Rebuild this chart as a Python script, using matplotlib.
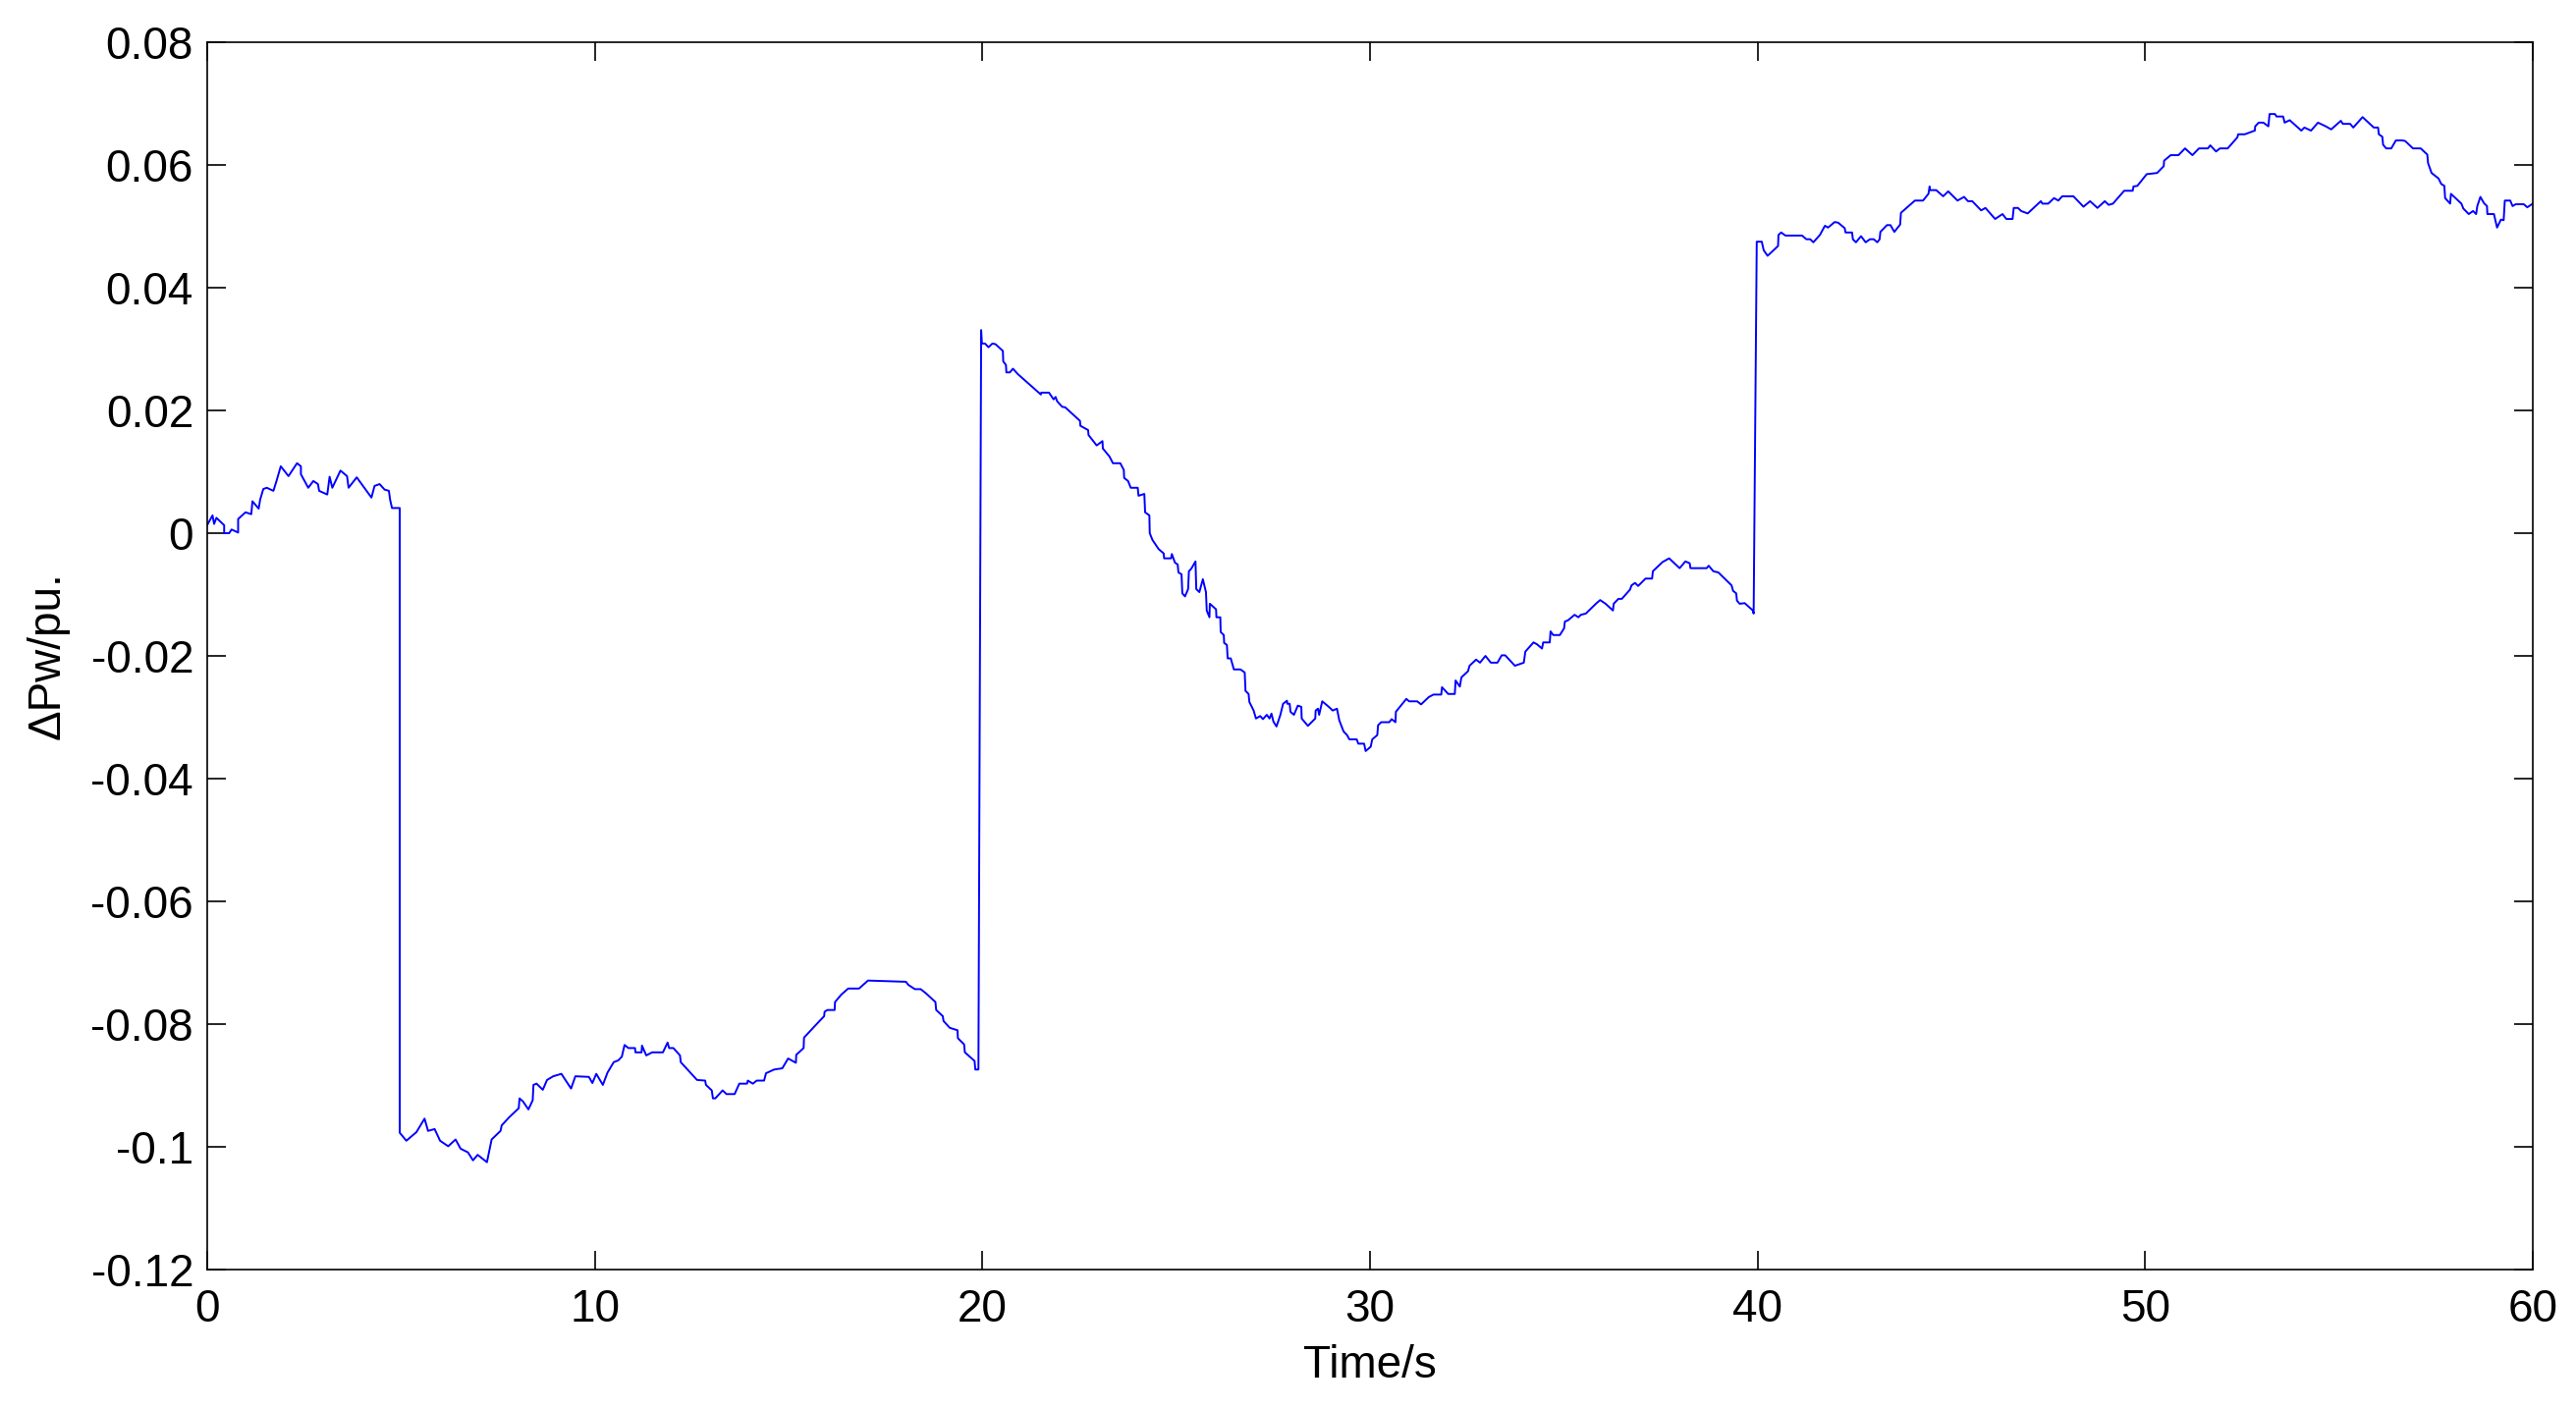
import numpy as np
import matplotlib
matplotlib.use('Agg')
import matplotlib.pyplot as plt

plt.rcParams['font.family'] = ['Liberation Sans', 'DejaVu Sans']

# values, one list pair per stage of the step test
t_0_5 = [0, 0.14, 0.18, 0.24, 0.44, 0.44, 0.57, 0.63, 0.80, 0.80, 0.99, 1.14, 1.17, 1.33,
         1.37, 1.45, 1.54, 1.71, 1.79, 1.90, 2.10, 2.32, 2.42, 2.42, 2.61, 2.74, 2.86, 2.89,
         3.10, 3.16, 3.23, 3.44, 3.61, 3.65, 3.86, 4.24, 4.32, 4.45, 4.58, 4.69, 4.72, 4.77, 4.97]
dp_0_5 = [0.0013, 0.0029, 0.0015, 0.0025, 0.0013, 0.0000, 0.0000, 0.0006, 0.0001, 0.0023,
          0.0034, 0.0031, 0.0052, 0.0040, 0.0055, 0.0072, 0.0074, 0.0069, 0.0085, 0.0109,
          0.0093, 0.0114, 0.0109, 0.0096, 0.0074, 0.0085, 0.0080, 0.0069, 0.0063, 0.0092,
          0.0074, 0.0102, 0.0093, 0.0074, 0.0091, 0.0058, 0.0077, 0.0080, 0.0071, 0.0069,
          0.0055, 0.0041, 0.0041]

t_5_20 = [4.97, 5.14, 5.40, 5.61, 5.70, 5.87, 6.01, 6.22, 6.41, 6.54, 6.73, 6.86, 6.98, 7.22,
          7.34, 7.57, 7.60, 7.79, 8.04, 8.06, 8.15, 8.29, 8.40, 8.42, 8.50, 8.66, 8.77, 8.93,
          9.14, 9.39, 9.50, 9.85, 9.94, 10.04, 10.21, 10.33, 10.49, 10.61, 10.70, 10.77, 10.87,
          11.04, 11.05, 11.21, 11.22, 11.33, 11.48, 11.76, 11.88, 11.92, 12.03, 12.20, 12.22,
          12.64, 12.85, 12.87, 13.02, 13.05, 13.11, 13.30, 13.40, 13.61, 13.73, 13.93, 13.95,
          14.08, 14.18, 14.37, 14.42, 14.63, 14.84, 14.99, 15.19, 15.20, 15.39, 15.40, 15.68,
          15.92, 15.93, 16.00, 16.19, 16.20, 16.36, 16.54, 16.82, 17.05, 18.03, 18.09, 18.26,
          18.41, 18.55, 18.79, 18.81, 18.98, 19.00, 19.16, 19.36, 19.37, 19.53, 19.55, 19.80,
          19.82, 19.90]
dp_5_20 = [-0.0977, -0.0990, -0.0976, -0.0954, -0.0974, -0.0971, -0.0990, -0.0999, -0.0988,
           -0.1003, -0.1009, -0.1022, -0.1013, -0.1025, -0.0988, -0.0974, -0.0965, -0.0952,
           -0.0937, -0.0921, -0.0926, -0.0939, -0.0924, -0.0899, -0.0897, -0.0907, -0.0891,
           -0.0885, -0.0881, -0.0905, -0.0885, -0.0886, -0.0896, -0.0881, -0.0899, -0.0879,
           -0.0862, -0.0859, -0.0853, -0.0834, -0.0839, -0.0839, -0.0846, -0.0846, -0.0835,
           -0.0851, -0.0846, -0.0846, -0.0830, -0.0839, -0.0839, -0.0851, -0.0862, -0.0891,
           -0.0892, -0.0899, -0.0908, -0.0921, -0.0921, -0.0908, -0.0914, -0.0914, -0.0897,
           -0.0897, -0.0892, -0.0897, -0.0892, -0.0892, -0.0880, -0.0874, -0.0872, -0.0856,
           -0.0863, -0.0850, -0.0839, -0.0822, -0.0803, -0.0787, -0.0780, -0.0777, -0.0777,
           -0.0764, -0.0752, -0.0742, -0.0742, -0.0729, -0.0731, -0.0736, -0.0743, -0.0743,
           -0.0750, -0.0764, -0.0777, -0.0787, -0.0795, -0.0806, -0.0810, -0.0823, -0.0833,
           -0.0846, -0.0860, -0.0874, -0.0874]

t_20_40 = [19.97, 19.99, 20.07, 20.16, 20.26, 20.34, 20.53, 20.54, 20.61, 20.62, 20.71, 20.79,
           20.92, 21.51, 21.52, 21.72, 21.84, 21.89, 21.93, 22.06, 22.14, 22.52, 22.53, 22.73,
           22.74, 22.95, 23.10, 23.11, 23.28, 23.37, 23.56, 23.65, 23.66, 23.76, 23.83, 24.01,
           24.03, 24.18, 24.20, 24.31, 24.32, 24.39, 24.55, 24.68, 24.69, 24.87, 24.89, 24.97,
           25.04, 25.06, 25.14, 25.16, 25.23, 25.31, 25.33, 25.39, 25.50, 25.52, 25.60, 25.69,
           25.77, 25.79, 25.86, 25.87, 26.03, 26.04, 26.14, 26.15, 26.23, 26.24, 26.31, 26.33,
           26.41, 26.49, 26.66, 26.77, 26.79, 26.87, 26.89, 27.00, 27.06, 27.17, 27.24, 27.34,
           27.41, 27.46, 27.51, 27.59, 27.69, 27.76, 27.86, 27.87, 27.93, 27.95, 28.04, 28.14,
           28.23, 28.24, 28.40, 28.59, 28.60, 28.66, 28.69, 28.77, 28.94, 29.04, 29.15, 29.21,
           29.32, 29.41, 29.47, 29.66, 29.70, 29.85, 29.89, 30.02, 30.06, 30.19, 30.21, 30.29,
           30.50, 30.56, 30.66, 30.67, 30.94, 31.01, 31.22, 31.32, 31.52, 31.64, 31.84, 31.86,
           32.02, 32.19, 32.21, 32.32, 32.36, 32.53, 32.57, 32.74, 32.84, 32.98, 33.12, 33.29,
           33.40, 33.49, 33.74, 33.97, 34.01, 34.22, 34.31, 34.44, 34.47, 34.64, 34.66, 34.73,
           34.90, 35.01, 35.03, 35.11, 35.28, 35.38, 35.44, 35.57, 35.83, 35.94, 36.08, 36.27,
           36.29, 36.41, 36.50, 36.71, 36.75, 36.84, 36.92, 37.11, 37.28, 37.30, 37.55, 37.72,
           37.99, 38.14, 38.25, 38.27, 38.69, 38.74, 38.86, 38.99, 39.33, 39.37, 39.45, 39.47,
           39.54, 39.67, 39.88, 39.90]
dp_20_40 = [0.0331, 0.0309, 0.0309, 0.0303, 0.0309, 0.0308, 0.0297, 0.0280, 0.0274, 0.0262,
            0.0262, 0.0268, 0.0259, 0.0226, 0.0229, 0.0229, 0.0218, 0.0222, 0.0215, 0.0206,
            0.0205, 0.0183, 0.0175, 0.0168, 0.0160, 0.0143, 0.0150, 0.0138, 0.0125, 0.0114,
            0.0114, 0.0103, 0.0090, 0.0085, 0.0074, 0.0074, 0.0061, 0.0064, 0.0034, 0.0029,
            0.0000, -0.0011, -0.0026, -0.0033, -0.0041, -0.0041, -0.0034, -0.0048, -0.0051,
            -0.0064, -0.0067, -0.0098, -0.0103, -0.0091, -0.0062, -0.0058, -0.0046, -0.0091,
            -0.0096, -0.0075, -0.0096, -0.0126, -0.0137, -0.0115, -0.0124, -0.0137, -0.0137,
            -0.0161, -0.0166, -0.0179, -0.0182, -0.0204, -0.0204, -0.0222, -0.0222, -0.0227,
            -0.0257, -0.0262, -0.0275, -0.0289, -0.0302, -0.0298, -0.0303, -0.0296, -0.0302,
            -0.0294, -0.0307, -0.0315, -0.0296, -0.0278, -0.0273, -0.0278, -0.0278, -0.0291,
            -0.0296, -0.0281, -0.0283, -0.0302, -0.0314, -0.0302, -0.0289, -0.0286, -0.0296,
            -0.0274, -0.0283, -0.0289, -0.0286, -0.0305, -0.0323, -0.0329, -0.0336, -0.0336,
            -0.0343, -0.0343, -0.0355, -0.0348, -0.0336, -0.0329, -0.0313, -0.0308, -0.0308,
            -0.0303, -0.0308, -0.0291, -0.0270, -0.0274, -0.0274, -0.0279, -0.0267, -0.0263,
            -0.0263, -0.0251, -0.0262, -0.0262, -0.0240, -0.0250, -0.0235, -0.0225, -0.0216,
            -0.0206, -0.0211, -0.0200, -0.0211, -0.0211, -0.0199, -0.0199, -0.0216, -0.0211,
            -0.0193, -0.0178, -0.0181, -0.0188, -0.0178, -0.0178, -0.0160, -0.0166, -0.0166,
            -0.0155, -0.0144, -0.0142, -0.0133, -0.0137, -0.0133, -0.0131, -0.0115, -0.0109,
            -0.0115, -0.0126, -0.0115, -0.0107, -0.0107, -0.0092, -0.0085, -0.0081, -0.0086,
            -0.0074, -0.0074, -0.0062, -0.0047, -0.0041, -0.0057, -0.0046, -0.0049, -0.0057,
            -0.0057, -0.0053, -0.0062, -0.0064, -0.0085, -0.0094, -0.0098, -0.0110, -0.0115,
            -0.0114, -0.0126, -0.0131]

t_40_60 = [39.98, 40.11, 40.16, 40.26, 40.53, 40.54, 40.61, 40.72, 41.15, 41.26, 41.36, 41.44,
           41.61, 41.74, 41.82, 41.99, 42.08, 42.25, 42.27, 42.44, 42.46, 42.54, 42.67, 42.79,
           42.90, 43.00, 43.09, 43.15, 43.17, 43.34, 43.43, 43.53, 43.68, 43.70, 44.06, 44.27,
           44.41, 44.44, 44.45, 44.61, 44.79, 44.92, 45.16, 45.33, 45.43, 45.54, 45.77, 45.88,
           46.13, 46.32, 46.42, 46.58, 46.61, 46.72, 46.80, 46.97, 47.31, 47.35, 47.50, 47.65,
           47.76, 47.86, 48.15, 48.41, 48.58, 48.77, 48.96, 49.06, 49.17, 49.46, 49.68, 49.70,
           49.80, 50.04, 50.31, 50.48, 50.49, 50.66, 50.86, 51.03, 51.22, 51.39, 51.62, 51.68,
           51.83, 51.93, 52.13, 52.38, 52.40, 52.57, 52.83, 52.84, 52.93, 53.05, 53.18, 53.21,
           53.35, 53.39, 53.56, 53.60, 53.73, 54.03, 54.11, 54.28, 54.46, 54.66, 54.80, 55.05,
           55.10, 55.29, 55.37, 55.61, 55.90, 56.01, 56.03, 56.12, 56.14, 56.22, 56.35, 56.47,
           56.64, 56.71, 56.91, 57.11, 57.28, 57.30, 57.39, 57.57, 57.64, 57.72, 57.74, 57.87,
           57.89, 58.16, 58.21, 58.35, 58.46, 58.54, 58.57, 58.65, 58.74, 58.82, 58.83, 59.00,
           59.08, 59.18, 59.25, 59.28, 59.42, 59.48, 59.56, 59.77, 59.86, 60.00]
dp_40_60 = [0.0475, 0.0475, 0.0461, 0.0452, 0.0468, 0.0486, 0.0490, 0.0485, 0.0485, 0.0479,
            0.0479, 0.0474, 0.0486, 0.0501, 0.0498, 0.0507, 0.0506, 0.0497, 0.0490, 0.0490,
            0.0479, 0.0474, 0.0484, 0.0474, 0.0479, 0.0479, 0.0474, 0.0479, 0.0491, 0.0502,
            0.0502, 0.0491, 0.0503, 0.0522, 0.0542, 0.0542, 0.0553, 0.0565, 0.0559, 0.0559,
            0.0549, 0.0557, 0.0542, 0.0548, 0.0541, 0.0541, 0.0526, 0.0530, 0.0512, 0.0520,
            0.0512, 0.0512, 0.0530, 0.0530, 0.0525, 0.0521, 0.0541, 0.0537, 0.0537, 0.0546,
            0.0542, 0.0549, 0.0549, 0.0532, 0.0541, 0.0530, 0.0541, 0.0535, 0.0537, 0.0558,
            0.0558, 0.0565, 0.0566, 0.0585, 0.0587, 0.0598, 0.0607, 0.0616, 0.0616, 0.0627,
            0.0616, 0.0627, 0.0627, 0.0632, 0.0622, 0.0627, 0.0627, 0.0645, 0.0650, 0.0650,
            0.0656, 0.0663, 0.0669, 0.0669, 0.0663, 0.0683, 0.0683, 0.0679, 0.0679, 0.0669,
            0.0673, 0.0656, 0.0661, 0.0656, 0.0669, 0.0663, 0.0658, 0.0672, 0.0667, 0.0667,
            0.0661, 0.0678, 0.0661, 0.0661, 0.0650, 0.0646, 0.0633, 0.0627, 0.0627, 0.0640,
            0.0640, 0.0639, 0.0627, 0.0627, 0.0617, 0.0603, 0.0587, 0.0578, 0.0569, 0.0566,
            0.0546, 0.0537, 0.0553, 0.0537, 0.0529, 0.0520, 0.0525, 0.0520, 0.0533, 0.0548,
            0.0538, 0.0533, 0.0520, 0.0520, 0.0498, 0.0511, 0.0510, 0.0542, 0.0542, 0.0533,
            0.0536, 0.0536, 0.0531, 0.0537]

x_ticks = [0, 10, 20, 30, 40, 50, 60]
y_ticks = [-0.12, -0.1, -0.08, -0.06, -0.04, -0.02, 0, 0.02, 0.04, 0.06, 0.08]
y_tick_labels = ['-0.12', '-0.1', '-0.08', '-0.06', '-0.04', '-0.02', '0',
                 '0.02', '0.04', '0.06', '0.08']

t = np.concatenate([t_0_5, t_5_20, t_20_40, t_40_60])
dp = np.concatenate([dp_0_5, dp_5_20, dp_20_40, dp_40_60])

fig = plt.figure(figsize=(26.23, 14.34), dpi=100)
ax = fig.add_axes([0.0804, 0.0983, 0.9028, 0.8717])
ax.plot(t, dp, color='#0000FF', linewidth=1.4)

ax.set_xlim(0, 60)
ax.set_ylim(-0.12, 0.08)
ax.set_xticks(x_ticks)
ax.set_yticks(y_ticks)
ax.set_yticklabels(y_tick_labels)
ax.tick_params(direction='in', length=14, width=1.2, labelsize=33,
               top=True, right=True)
ax.tick_params(axis='x', pad=14)
ax.tick_params(axis='y', pad=10)
for sp in ax.spines.values():
    sp.set_linewidth(1.2)

ax.set_xlabel('Time/s', fontsize=33, labelpad=9)
ax.set_ylabel('ΔPw/pu.', fontsize=33, labelpad=16)

fig.savefig('out.png', dpi=100, facecolor='white')
